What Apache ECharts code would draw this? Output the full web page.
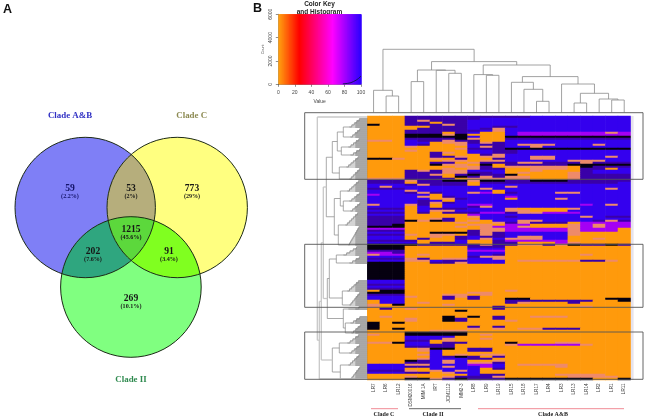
<!DOCTYPE html>
<html><head><meta charset="utf-8">
<style>html,body{margin:0;padding:0;background:#fff}#c{width:646px;height:419px}</style>
<script src="https://cdn.jsdelivr.net/npm/echarts@6/dist/echarts.min.js"></script>
</head><body><div id="c"></div>
<script>
// ---------- data ----------
const vennSets = ['Clade A&B', 'Clade C', 'Clade II'];
const vennCounts = [59, 53, 773, 1215, 202, 91, 269];
const vennPercents = ['(2.2%)', '(2%)', '(29%)', '(45.6%)', '(7.6%)', '(3.4%)', '(10.1%)'];
const columns = ['LR7','LR6','LR12','DSM20016','MIM 1A','IRT','JCM1112','MM2-3','LR8','LR9','LR19','LR15','LR18','LR17','LR4','LR3','LR13','LR14','LR2','LR1','LR11'];
const cladeGroups = ['Clade C', 'Clade II', 'Clade A&B'];
const keyTicksX = [0, 20, 40, 60, 80, 100];
const histValue = [78, 84, 88, 91, 94, 97, 100];
const histCount = [30, 80, 140, 240, 350, 500, 700];
// cell codes: O orange, S salmon, M magenta, B blue, P purple, K near-black
const cellValue = {O: 3, S: 30, M: 72, B: 100, P: 101, K: 102};
const heatRows = [
'OOO PPPPP PPPPPBBBBBBBB','OOO PPPPP PBBBBBBBBBBBB','OOO PSPPP BBBBBBBBBBBBB','OOO PPOPP BBBBBBBBBBBBB',
'KOO PPPSP BBBBBBBBBBBBB','OOO OOPPP BBPPBBBBBBBBB','OOO OPPPP BPSBBBBBBBBBB','OOO PPPPP PBSBBBBBBBBBB',
'OOO PPPOP BOOBMMMMMMMSM','OOO KKKSK OOOBMMMMMMMMM','OOO KKKKK BOOKKKKKKKKKK','OOO PPPPK SOOPPPPPPPPPP',
'SSO BPPSP POOBBBBBBBBBB','OOO BBOSS PSPBBBBBBBBBB','OOO BPOOS BPPBSSSBBBSBB','OOO SOOOO BSPBBSBBBBBBB',
'OOO OOOOS PPPKKKKKKKKKK','OOO SOOOO BBPPBBBBBBBBB','OOO OOPSO BBPPBBBBBBBBB','OOO OOPOO OPSBBBBBBBBBB',
'OOO OOPPS OSSBBSSBBBBSB','KKS OOSOP OOPBBSSBBBBBB','OOO OOOSS OSSBBBBBSSSBB','OOO OOPPO SPPPSSPPPSPPP',
'OOO OOKSS OKOPPPPPKKKKK','OOO OOOOS SPOSSSSSOKPPP','OOO OOOSO SPPOOSSSOPPOB','OOO PSPSS BBBOOSOOOPBBB',
'OOO PPPSS PPBOSOOOSPBBB','OOO PPSOP KPPKOOOOSPPPP','OOO PPPOK PSPSSOOOSPPPP','SSS PPPPO SSSSSOOOSPPPP',
'PPP SPPKK SKKPPKKKPPPPP','PPP OPPPP OPPPPPPPPPPPB','BBB PSPPP OBBBBBBBBBBBB','BSB BBBBB BBBSBBBBBBBBB',
'PPP BBBBB BSBBBBBBBBBSB','BBB SBBBB BBOBBBBBBBBBB','BBB PSPBB SMOPBBBSSBBBB','MBB BBOBB BBBBBBBBBBBBB',
'BBB BSOPB BBBMBBBBBBBBB','BBB BBOSP BBBOBBBSBBBBB','BBB BPBOB BBBBBBBBBBBBB','BBB BPSPB BBBBBBBBBBBBB',
'SBB SPOBB MMBBBBBBBMBSB','BBB OBOBB PSBBBBBBBBBBB','PPP OBPPP BBBSOOOOSBBBB','BBB OBSSB BBBSSOOOBBBBB',
'PPP OPOPP PMMPSSMMMBBBB','BBB OOOOO MBBBBBBBBBBBB','PPP OOOOO SBBPBBBBBSBPP','PPP OOSPO OBBBBBBBBBBBB',
'PPP KSKPO SOBBSSBBBBPSP','PPP OOOOS OOSPSPPPOMMMM','PPK OOOOO SSOMMOOOSMSMM','KKK OOOOS OSMMSOOOSMSMM',
'MMM OOOOO OSSMMMMMSMMMO','PPP OOOOO PSSMMMMMSMMMO','BBB OOKKK PSPBBBBBSOOOO','PPP SOSSO PSPBBBBBSOOOO',
'BBB OOSOP BPPBSSBBOOOOO','BBB OPOOP BSBSSSBBOOSOO','PPP POOOB OOPMMMMMOOOOO','BBB BOPPB OOPPOOOMSOOOO',
'KKK KPPPP PSPPSSPSKPPKP','KKK OOOOO PPPOOOOOOOOOO','KKK OOOOO BBBOOOOOOOOOO','PPP OOOOO MMMOOOOOOOOOO',
'MMP OOOOO BBBOOOOOOOOOO','SMM OSOOO BBPOOOOOOSOOO','BBB OOOOO PSSOOOOOOOOOO','PPP SPOSS BBSOOOOOOOOOO',
'BBB SSBPP BBBOSSSSSPPSO','KKK OOPPS BBBOOOOOOOOOO','KKK OOOOO OOOOOOOOOOOOO','KKK OOOOO OOOOOOOOOOOOO',
'KKK OOOOO OOOOOOOOOOOOO','KKK OOOOO OOOOOOOOOOOOO','KKK OOOOO OOOOOOOOOOOOO','KKK OOOOO OOOOOOOOOOOOO',
'KKK OOOOO OOOOOOOOOOOOO','KKK OOOOO OOOOOOOOOOOOO','BBB OOOOO OOOOOOOOOOOOO','BBB OOOOO OOOOOOOOOOOOO',
'PPP OOOOO OOOOOOOOOOOOO','BBB OOOOO OOOOOOOOOOOOO','PPP OOOOO OOOOOOOOOOOOO','OKK OOOOO OOOSOOOOOOOOO',
'KKK OOOOO SSOOOOOOOOOOO','PPP OOOSS OSOOOOOOOOOOO','BBB SOOPS POOOOOOOOOOOO','BBB OOOPO POOKKOOOOOOKK',
'OBB OOOOO OOOPPPPPPPOOK','OBB OSOOO OOOPSOOOPOOOO','SOK OOOSO OOOOOOOOOOOOO','SOO OOOOO OOPOOOOOOSOOO',
'OPO SOOOO OOPOOOOOOOOOO','OOO OOOOK OOOOOOOOOOOOO','OOO OOOOO OOOOOOOOOOOOO','OOO OOOOO OOOOOOOOOOOOO',
'OSO OOOKO KOPOOSSSOOOOO','OOO SOOKP OOPOOOOOOOOOO','OOO SOOKP OOOSOOOOOOOOO','KOK OOOOO OOOOOOOOOOOOO',
'KOO OOOOO OOOOOOOOOOOOO','KOO OOOOO POPOOOOOOOOOO','KOK OOOOO SOSOSSPPPOOOO','OOO OOSSS OOOOOOOOOOOOO',
'OOO KKKKK OOOOOOOOOOOOO','SOO KKKKK OSOOOOOOOOOOO','OOO BBBBO OOOOOOOOOOOOO','OOO BBBSO OSOOOOOOOOOOO',
'OOO PPOSO OOOOOOOOOOOOO','SSK BBOPP OOOKOOOSSOOOO','OOO BBPPO OOOSMMMMMSOOO','OOO PPPPO OOOOOOOOOOOOO',
'OOO OSKKO PPOOOOOOOOOOO','OOO OSBOO PPOOOOOOOOOOO','OOO OOBOO OOOOOOOOOOOOO','OOO OSBOS OSSOOOOOOOOOO',
'OOO OOBPK POPOOOOOOOOOO','OOO OSBBB PPOOOOOOOOOOO','OOO KPBSB OOSOOOOOOOOOO','OOO PPBSB SSPOOOOOOOOOO',
'BBB SSBBB MMBOSSSSOOOOO','BBB PPBSB BMBOOOOSOOOOO','BBB OOBBB BOPOOOOOOOOOO','PPP SOSBS BOOOOOOOOOOOO',
'BBB PPOSB BOOOOOOOOOOOO','OOO OOOOO BPPOOOOSSSSOO','OOO SOOSP PPSOOOOOSSSSO','OOO KKSPK PPPKKKKKKKOOK'
];
// column clustering: [height, childA, childB]; numbers are leaf columns
const colTree = [63,[22,0,[16.3,1,2]],[50.7,[42.3,[30.7,3,4],[42,5,[39,6,7]]],[47.3,[37.7,8,[37,9,10]],[35.7,[30,11,[23,12,[11,13,14]]],[28.3,15,[19,[9.3,16,17],[13.3,18,[12.3,19,20]]]]]]]];
// row clustering: [height, childA, childB]; [height, firstRow, lastRow] is a fan of leaf rows
const rowTree = [50,[50,0,0],[48,[46,[44,
  [41,[35,[30,[24,[18,1,5],[17,6,10]],[26,[19,11,15],[17,16,19]]],[28,[21,20,25],[18,26,31]]],
      [33,[27,[20,32,37],[24,[18,38,42],[17,43,47]]],[29,[22,48,54],[19,55,64]]]],
  [40,[38,[31,[24,65,69],[18,70,73]],[25,[20,82,87],[18,88,94]]],
      [24,[19,95,96],[22,[17,100,103],[16,104,108]]]]],
  [35,[28,[20,109,113],[18,114,118]],[27,[19,119,124],[17,125,131]]]],[48,131,131]]];

// ---------- layout and style ----------
const HL = 367.3, HW = 263.2, HT = 116, HH = 264;
const cellColors = {O:'#ff9a0c', S:'#ee8a6a', M:'#a400f4', B:'#3400ee', P:'#3a00a8', K:'#060010'};
const circles = [{x:85.2,y:207.5,r:70.2},{x:177.2,y:207.5,r:70.2},{x:130.9,y:287,r:70.3}];
const regions = [
  {sets:[0],color:'#7f7ff6'},{sets:[1],color:'#ffff80'},{sets:[2],color:'#80ff80'},
  {sets:[0,1],color:'#b6ae7c'},{sets:[0,2],color:'#2fa67f'},{sets:[1,2],color:'#80ff20'},
  {sets:[0,1,2],color:'#5cd83c'}
];
const vennCountPos = [[70,189],[131,189],[192,189],[131,230],[93,252],[169,252],[131,299]];
const vennSetLabels = [{x:70,y:115.7,c:'#3030c4'},{x:191.7,y:115.7,c:'#8c8a52'},{x:131,y:379.5,c:'#2f8a4f'}];
const cladeBars = [{x0:371,x1:398,c:'#f08a94',tx:384},{x0:409,x1:461,c:'#666',tx:433},{x0:478,x1:624,c:'#f08a94',tx:553}];
const boxes = [[304.7,112.7,643,179.3],[304.7,244.3,643,307.3],[304.7,332,643,379.3]];

function regionPolygon(sets){
  const pts=[]; 
  sets.forEach(i=>{const c=circles[i];
    for(let a=0;a<720;a++){const t=a*Math.PI/360,x=c.x+c.r*Math.cos(t),y=c.y+c.r*Math.sin(t);
      if(sets.every(j=>j===i||Math.hypot(x-circles[j].x,y-circles[j].y)<=circles[j].r))pts.push([x,y]);}
  });
  const mx=pts.reduce((s,p)=>s+p[0],0)/pts.length,my=pts.reduce((s,p)=>s+p[1],0)/pts.length;
  return pts.sort((a,b)=>Math.atan2(a[1]-my,a[0]-mx)-Math.atan2(b[1]-my,b[0]-mx));
}
function ramp(v){
  const st=[[0,[255,160,16]],[25,[255,0,0]],[65,[255,0,255]],[100,[40,0,255]]];
  for(let i=1;i<st.length;i++) if(v<=st[i][0]){
    const a=st[i-1],b=st[i],t=(v-a[0])/(b[0]-a[0]);
    return 'rgb('+a[1].map((c,k)=>Math.round(c+(b[1][k]-c)*t)).join(',')+')';
  }
  return 'rgb(40,0,255)';
}
// tree flattening into line segments
function colSegs(n,out){
  if(typeof n==='number') return {x:n+.5,h:0};
  const a=colSegs(n[1],out),b=colSegs(n[2],out);
  out.push([a.x,a.h,a.x,n[0]],[b.x,b.h,b.x,n[0]],[a.x,n[0],b.x,n[0]]);
  return {x:(a.x+b.x)/2,h:n[0]};
}
function rowSegs(n,out){
  if(typeof n[1]==='number'){
    const r0=n[1],r1=n[2],h=n[0];
    if(h>40||r1===r0){out.push([h,r0+.5,0,r0+.5,2]);return {y:r0+.5,h};}
    // a fan rises as a staircase towards the heatmap
    let prev=null;
    for(let r=r0;r<=r1;r++){
      const s=h*(0.45+0.55*(r-r0)/(r1-r0));
      out.push([s,r+.5,0,r+.5,0],[Math.min(12,s),r+.5,0,r+.5,1]);
      if(prev!==null) out.push([prev,r-.5,prev,r+.5,0],[prev,r+.5,s,r+.5,0]);
      prev=s;
    }
    return {y:r1+.5,h};
  }
  const a=rowSegs(n[1],out),b=rowSegs(n[2],out),k=n[0]>=44?2:0;
  out.push([a.h,a.y,n[0],a.y,k],[b.h,b.y,n[0],b.y,k],[n[0],a.y,n[0],b.y,k]);
  return {y:(a.y+b.y)/2,h:n[0]};
}
const colSegments=[],rowSegments=[];
colSegs(colTree,colSegments); rowSegs(rowTree,rowSegments);

const heatData=[];
heatRows.forEach((s,r)=>{const t=s.replace(/ /g,'');
  columns.forEach((_,c)=>heatData.push([c,r,cellValue[t[c]||'O']]));});
const keyCells=[];for(let v=0;v<100;v++)keyCells.push([v,v+1]);

function txt(x,y,s,font,fill,extra){
  return Object.assign({type:'text',style:{x,y,text:s,font,fill,align:'center',verticalAlign:'middle'}},extra||{});
}
const SERIF='"Liberation Serif"', SANS='"Liberation Sans"';
const chart=echarts.init(document.getElementById('c'),null,{renderer:'canvas'});
chart.setOption({
  animation:false,
  backgroundColor:'#fff',
  grid:[
    {left:0,top:0,width:646,height:419},
    {left:278.3,top:14.3,width:82.7,height:70},
    {left:HL,top:HT,width:HW,height:HH},
    {left:HL,top:49.3,width:HW,height:63},
    {left:HL-62,top:HT,width:62,height:HH}
  ],
  xAxis:[
    {gridIndex:0,type:'value',min:0,max:646,show:false},
    {gridIndex:1,type:'value',min:0,max:100,interval:20,splitLine:{show:false},
      axisLine:{show:true,onZero:false,lineStyle:{color:'#444',width:.6}},axisTick:{length:2.5,lineStyle:{color:'#444',width:.6}},
      axisLabel:{fontSize:5,color:'#444',fontFamily:SANS,margin:5.5,
        formatter:v=>keyTicksX.includes(v)?String(v):''},
      name:'Value',nameLocation:'middle',nameGap:15,nameTextStyle:{fontSize:5,color:'#444',fontFamily:SANS}},
    {gridIndex:2,type:'category',data:columns,axisLine:{show:false},axisTick:{show:false},splitLine:{show:false},
      axisLabel:{interval:0,rotate:90,fontSize:4.6,color:'#444',fontFamily:SANS,margin:3.5}},
    {gridIndex:3,type:'value',min:0,max:21,show:false},
    {gridIndex:4,type:'value',min:0,max:62,inverse:true,show:false}
  ],
  yAxis:[
    {gridIndex:0,type:'value',min:0,max:419,inverse:true,show:false},
    {gridIndex:1,type:'value',min:0,max:6000,interval:2000,splitLine:{show:false},
      axisLine:{show:true,onZero:false,lineStyle:{color:'#444',width:.6}},axisTick:{length:2.5,lineStyle:{color:'#444',width:.6}},
      axisLabel:{fontSize:5,color:'#444',fontFamily:SANS,rotate:90,margin:5.5,formatter:v=>String(v)},
      name:'Count',nameLocation:'middle',nameGap:13.5,nameTextStyle:{fontSize:3.6,color:'#444',fontFamily:SANS}},
    {gridIndex:2,type:'category',inverse:true,data:heatRows.map((_,i)=>i),show:false},
    {gridIndex:3,type:'value',min:0,max:63,show:false},
    {gridIndex:4,type:'value',min:0,max:132,inverse:true,show:false}
  ],
  visualMap:{type:'piecewise',show:false,seriesIndex:3,dimension:2,
    pieces:Object.keys(cellValue).map(k=>({value:cellValue[k],color:cellColors[k]}))},
  series:[
    {type:'custom',xAxisIndex:0,yAxisIndex:0,silent:true,clip:false,z:1,data:regions.map((_,i)=>[i]),
      renderItem(p,api){const g=regions[p.dataIndex];
        return {type:'polygon',shape:{points:regionPolygon(g.sets).map(q=>api.coord(q))},style:{fill:g.color,stroke:null}};}},
    {type:'custom',xAxisIndex:0,yAxisIndex:0,silent:true,clip:false,z:2,data:circles.map((_,i)=>[i]),
      renderItem(p,api){const c=circles[p.dataIndex],o=api.coord([c.x,c.y]);
        return {type:'circle',shape:{cx:o[0],cy:o[1],r:c.r},style:{fill:'none',stroke:'#1d2a18',lineWidth:1}};}},
    {type:'custom',xAxisIndex:0,yAxisIndex:0,silent:true,clip:false,z:5,data:vennCounts.map((_,i)=>[i]),
      renderItem(p,api){const i=p.dataIndex,q=vennCountPos[i],a=api.coord(q),
          col=i===0?'#14146a':'#161616';
        return {type:'group',children:[
          txt(a[0],a[1],String(vennCounts[i]),'bold 9.6px '+SERIF,col),
          txt(a[0],a[1]+7.4,vennPercents[i],'bold 6.1px '+SERIF,col)]};}},
    {type:'heatmap',xAxisIndex:2,yAxisIndex:2,silent:true,data:heatData,z:3,progressive:0,
      itemStyle:{borderWidth:0},emphasis:{disabled:true}},
    {type:'custom',xAxisIndex:1,yAxisIndex:1,silent:true,z:3,data:keyCells,
      renderItem(p,api){const a=api.coord([api.value(0),6000]),b=api.coord([api.value(1),0]);
        return {type:'rect',shape:{x:a[0],y:a[1],width:b[0]-a[0]+(api.value(0)<99?1.6:0),height:b[1]-a[1]},style:{fill:ramp(api.value(0))}};}},
    {type:'line',xAxisIndex:1,yAxisIndex:1,silent:true,z:4,symbol:'none',
      data:histValue.map((v,i)=>[v,histCount[i]]),lineStyle:{color:'#141460',width:1}},
    {type:'custom',xAxisIndex:3,yAxisIndex:3,silent:true,clip:false,z:3,data:colSegments,
      renderItem(p,api){const a=api.coord([api.value(0),api.value(1)]),b=api.coord([api.value(2),api.value(3)]);
        return {type:'line',shape:{x1:a[0],y1:a[1],x2:b[0],y2:b[1]},style:{stroke:'#8a8a8a',lineWidth:.8}};}},
    {type:'custom',xAxisIndex:4,yAxisIndex:4,silent:true,clip:false,z:3,data:rowSegments,
      renderItem(p,api){const a=api.coord([api.value(0),api.value(1)]),b=api.coord([api.value(2),api.value(3)]),k=api.value(4);
        return {type:'line',shape:{x1:a[0],y1:a[1],x2:b[0],y2:b[1]},
          style:{stroke:k===2?'#c8c8c8':k===1?'#5e5e5e':'#8c8c8c',lineWidth:k===2?1.3:.75}};}},
    {type:'custom',xAxisIndex:0,yAxisIndex:0,silent:true,clip:false,z:6,data:boxes,
      renderItem(p,api){const a=api.coord([api.value(0),api.value(1)]),b=api.coord([api.value(2),api.value(3)]);
        return {type:'rect',shape:{x:a[0],y:a[1],width:b[0]-a[0],height:b[1]-a[1]},style:{fill:'none',stroke:'#555',lineWidth:.9}};}},
    {type:'custom',xAxisIndex:0,yAxisIndex:0,silent:true,clip:false,z:2,data:[[630.6,116,633.6,380]],
      renderItem(p,api){const a=api.coord([api.value(0),api.value(1)]),b=api.coord([api.value(2),api.value(3)]);
        return {type:'rect',shape:{x:a[0],y:a[1],width:b[0]-a[0],height:b[1]-a[1]},style:{fill:'#e6e3ec'}};}},
    {type:'custom',xAxisIndex:0,yAxisIndex:0,silent:true,clip:false,z:4,data:cladeGroups.map((_,i)=>[i]),
      renderItem(p,api){const i=p.dataIndex,c=cladeBars[i],a=api.coord([c.x0,408.7]),b=api.coord([c.x1,408.7]),t=api.coord([c.tx,414.2]);
        return {type:'group',children:[
          {type:'line',shape:{x1:a[0],y1:a[1],x2:b[0],y2:b[1]},style:{stroke:c.c,lineWidth:1}},
          txt(t[0],t[1],cladeGroups[i],'bold 6px '+SERIF,'#222')]};}},
    {type:'custom',xAxisIndex:0,yAxisIndex:0,silent:true,clip:false,z:5,data:vennSets.map((_,i)=>[i]),
      renderItem(p,api){const i=p.dataIndex,l=vennSetLabels[i],a=api.coord([l.x,l.y]);
        return txt(a[0],a[1],vennSets[i],'bold 8.9px '+SERIF,l.c);}}
  ],
  graphic:[
    {type:'text',left:3,top:3.5,style:{text:'A',font:'bold 12.5px '+SANS,fill:'#111'}},
    {type:'text',left:253,top:2.5,style:{text:'B',font:'bold 12.5px '+SANS,fill:'#111'}},
    {type:'text',x:319.5,y:4.7,style:{text:'Color Key',font:'bold 6.5px '+SANS,fill:'#222',align:'center',verticalAlign:'middle'}},
    {type:'text',x:319.5,y:12.3,style:{text:'and Histogram',font:'bold 6.5px '+SANS,fill:'#222',align:'center',verticalAlign:'middle'}}
  ]
});
</script></body></html>
